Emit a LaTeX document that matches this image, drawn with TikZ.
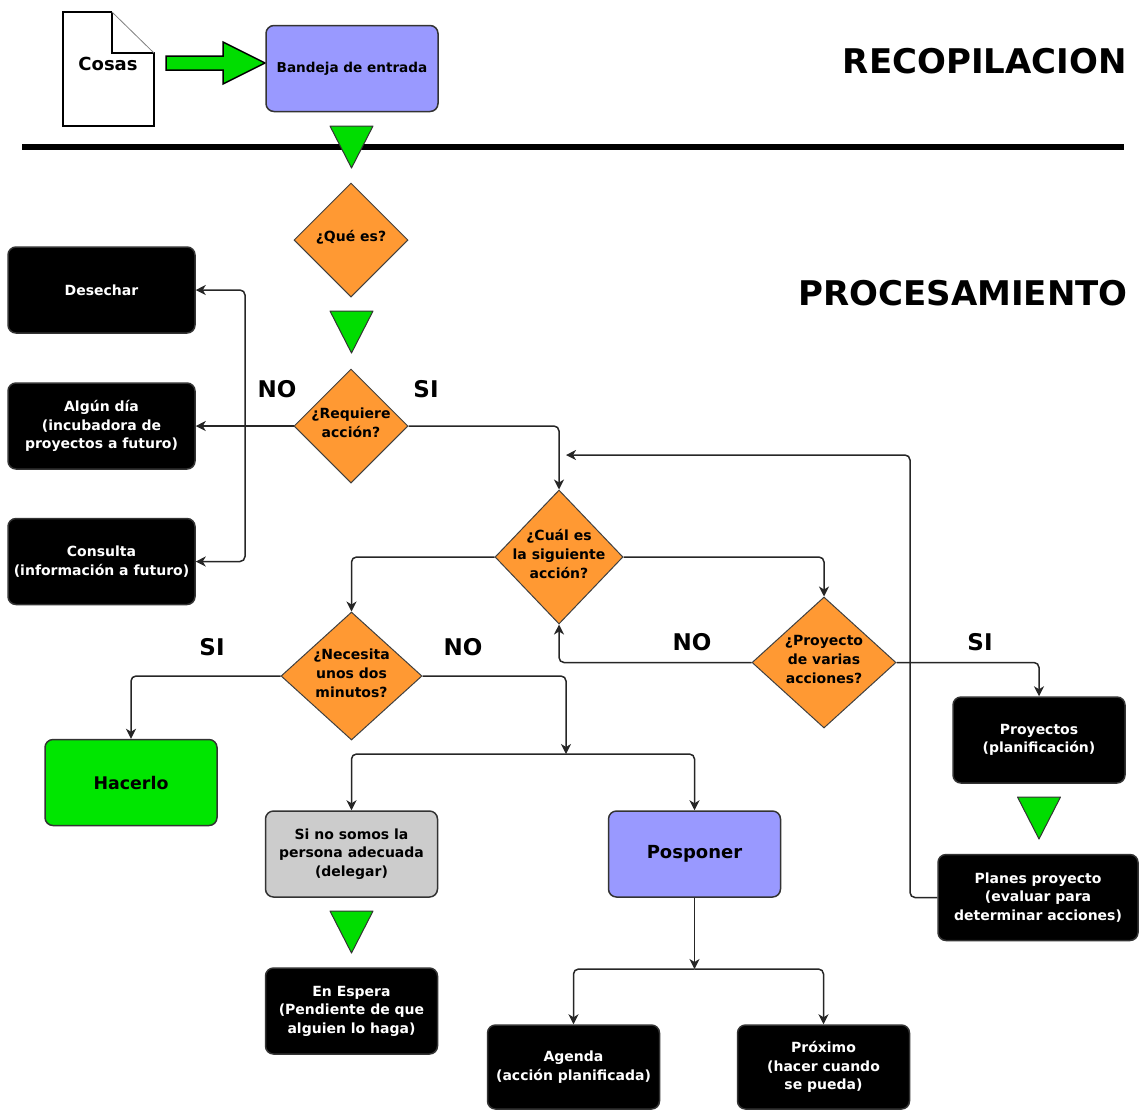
\documentclass[tikz,border=0pt]{standalone}
\usepackage{fontspec}
\setmainfont{DejaVu Sans}
\usetikzlibrary{shapes.geometric,arrows.meta}

\definecolor{inboxblue}{HTML}{9999FF}
\definecolor{decisionorange}{HTML}{FF9933}
\definecolor{doitgreen}{HTML}{00E600}
\definecolor{flowgreen}{HTML}{00DD00}
\definecolor{delegategray}{HTML}{CCCCCC}

\begin{document}
\begin{tikzpicture}[x=0.5pt,y=-0.5pt,
  box/.style={draw=black!80, line width=0.75pt, rounded corners=4pt, align=center, inner sep=1pt,
    minimum width=86pt, minimum height=43pt, font=\bfseries\fontsize{7}{9.3}\selectfont},
  blackbox/.style={box, fill=black, text=white},
  decision/.style={diamond, draw=black!75, line width=0.5pt, fill=decisionorange, inner sep=0pt},
  dectext/.style={align=center, inner sep=0pt, yshift=1.5pt, font=\bfseries\fontsize{7}{9.4}\selectfont},
  answer/.style={font=\bfseries\fontsize{11.5}{12}\selectfont},
  heading/.style={anchor=east, inner sep=0pt, font=\bfseries\fontsize{17}{20}\selectfont},
  flow/.style={draw=black!85, line width=0.75pt, rounded corners=2.5pt,
    -{Stealth[length=5pt,width=5pt,inset=1.5pt]}},
  downtri/.style={fill=flowgreen, draw=black!80, line width=0.5pt, line join=round}]
\useasboundingbox (0,0) rectangle (1139,1110);

% recopilacion
\fill[white] (63,12) -- (112,12) -- (154,53) -- (154,126) -- (63,126) -- cycle;
\draw[line width=0.75pt] (112,12) -- (63,12) -- (63,126) -- (154,126) -- (154,53) -- (112,53) -- (112,12);
\draw[gray, line width=0.4pt] (112,12) -- (154,53);
\node[font=\bfseries\fontsize{9}{10}\selectfont] (cosas) at (108,64) {Cosas};
\draw[fill=flowgreen, draw=black, line width=0.75pt]
  (166,56) -- (223,56) -- (223,42) -- (265,63) -- (223,84) -- (223,70) -- (166,70) -- cycle;
\node[box, fill=inboxblue, font=\bfseries\fontsize{6.8}{8}\selectfont] (bandeja) at (352,68.5) {Bandeja de entrada};
\node[heading] (recopilacion) at (1127,61) {RECOPILACION};
\draw[line width=3pt] (22,147) -- (1124,147);
\node[heading] (procesamiento) at (1128,293) {PROCESAMIENTO};

% procesamiento
\node[decision, minimum width=57pt, minimum height=57pt,
  label={[dectext]center:{¿Qué es?}}] (quees) at (351,240) {};
\node[decision, minimum width=57pt, minimum height=57pt,
  label={[dectext]center:{¿Requiere\\acción?}}] (requiere) at (351,426) {};
\node[blackbox, minimum width=93.5pt] (desechar) at (101.5,290) {Desechar};
\node[blackbox, minimum width=93.5pt] (algun) at (101.5,426) {Algún día\\(incubadora de\\proyectos a futuro)};
\node[blackbox, minimum width=93.5pt] (consulta) at (101.5,561.5) {Consulta\\(información a futuro)};
\node[decision, minimum width=64pt, minimum height=67pt,
  label={[dectext]center:{¿Cuál es\\la siguiente\\acción?}}] (cual) at (559,557) {};
\node[decision, minimum width=70.5pt, minimum height=64pt,
  label={[dectext]center:{¿Necesita\\unos dos\\minutos?}}] (necesita) at (351.5,676) {};
\node[decision, minimum width=72pt, minimum height=65.5pt,
  label={[dectext]center:{¿Proyecto\\de varias\\acciones?}}] (proyecto) at (824,662.5) {};
\node[box, fill=doitgreen, font=\bfseries\fontsize{8.7}{10}\selectfont] (hacerlo) at (131,782.5) {Hacerlo};
\node[box, fill=delegategray] (delegar) at (351.5,854) {Si no somos la\\persona adecuada\\(delegar)};
\node[blackbox] (espera) at (351.5,1011) {En Espera\\(Pendiente de que\\alguien lo haga)};
\node[box, fill=inboxblue, font=\bfseries\fontsize{9}{10}\selectfont] (posponer) at (694.5,854) {Posponer};
\node[blackbox, minimum height=42pt] (agenda) at (573.5,1067) {Agenda\\(acción planificada)};
\node[blackbox, minimum height=42pt] (proximo) at (823.5,1067) {Próximo\\(hacer cuando\\se pueda)};
\node[blackbox] (proyectos) at (1039,740) {Proyectos\\(planificación)};
\node[blackbox, minimum width=100pt] (planes) at (1038,897.5) {Planes proyecto\\(evaluar para\\determinar acciones)};

\foreach \tx/\ty in {351.5/126, 351.5/311, 1039/797, 351.5/911}
  \draw[downtri] ({\tx-21.5},\ty) -- ({\tx+21.5},\ty) -- (\tx,{\ty+42}) -- cycle;

\node[answer] (reqno) at (277,389) {NO};
\node[answer] (reqsi) at (426,389) {SI};
\node[answer] (minsi) at (212,647) {SI};
\node[answer] (minno) at (463,647) {NO};
\node[answer] (proyno) at (692,642) {NO};
\node[answer] (proysi) at (980,642) {SI};

\coordinate (nojoin) at (245,426);
\coordinate (nosplit) at (566,754);
\coordinate (possplit) at (694.5,969);
\coordinate (loopturn) at (910,455);
\coordinate (loopend) at (566,455);
\draw[flow] (requiere.west) -- (algun.east);
\draw[flow] (nojoin) |- (desechar.east);
\draw[flow] (nojoin) |- (consulta.east);
\draw[flow] (requiere.east) -| (cual.north);
\draw[flow] (cual.west) -| (necesita.north);
\draw[flow] (cual.east) -| (proyecto.north);
\draw[flow] (proyecto.west) -| (cual.south);
\draw[flow] (proyecto.east) -| (proyectos.north);
\draw[flow] (planes.west) -| (loopturn) -- (loopend);
\draw[flow] (necesita.west) -| (hacerlo.north);
\draw[flow] (necesita.east) -| (nosplit);
\draw[flow] (nosplit) -| (delegar.north);
\draw[flow] (nosplit) -| (posponer.north);
\draw[flow] (posponer.south) -- (possplit);
\draw[flow] (possplit) -| (agenda.north);
\draw[flow] (possplit) -| (proximo.north);
\end{tikzpicture}
\end{document}
